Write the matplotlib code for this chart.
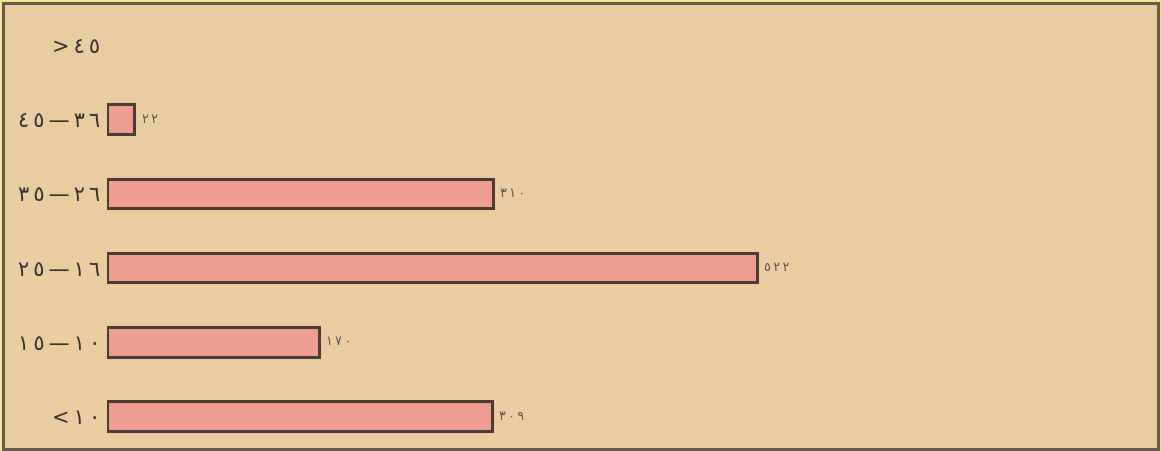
import matplotlib
matplotlib.use("Agg")
import matplotlib.pyplot as plt
from matplotlib.patches import Rectangle

# data (bottom to top)
categories = ["<١٠", "١٥–١٠", "٢٥–١٦", "٣٥–٢٦", "٤٥–٣٦", ">٤٥"]
values = [309, 170, 522, 310, 22, 0]
value_labels = ["٣٠٩", "١٧٠", "٥٢٢", "٣١٠", "٢٢", ""]

BG = "#E9CDA1"
BAR = "#EE9E91"
EDGE = "#4B3C37"

plt.rcParams['font.family'] = ['DejaVu Sans']


def spaced(s):
    # the original draws its digits with wide gaps
    return "\u2009".join(s.replace("–", "—"))


fig = plt.figure(figsize=(11.61, 4.51), dpi=100)
fig.patch.set_facecolor("#F2E59A")

# frame around the chart
fig.patches.append(Rectangle((0.003, 0.004), 0.994, 0.989, transform=fig.transFigure,
                             facecolor=BG, edgecolor="#6B5A4C", linewidth=2.2, zorder=-1))

ax = fig.add_axes([107 / 1161, 0, (1150 - 107) / 1161, 1])
ax.set_facecolor("none")

ypos = list(range(len(categories)))
bars = ax.barh(ypos, values, height=0.40, color=BAR, edgecolor=EDGE, linewidth=2.2)
for b, v in zip(bars, values):
    if v == 0:
        b.set_visible(False)

for y, v, lab in zip(ypos, values, value_labels):
    if lab:
        ax.text(v + 6, y, spaced(lab), va="center", ha="left", fontsize=9, color="#555555")

ax.set_xlim(0, (1150 - 107) / 1.245)
ax.set_ylim(-35 / 74.2, (451 - 35) / 74.2)
ax.set_yticks(ypos)
ax.set_yticklabels([spaced(c) for c in categories], fontsize=15, color="#333333")
ax.tick_params(axis="y", length=0, pad=5)
ax.set_xticks([])
for s in ax.spines.values():
    s.set_visible(False)

fig.savefig("out.png", dpi=100)
